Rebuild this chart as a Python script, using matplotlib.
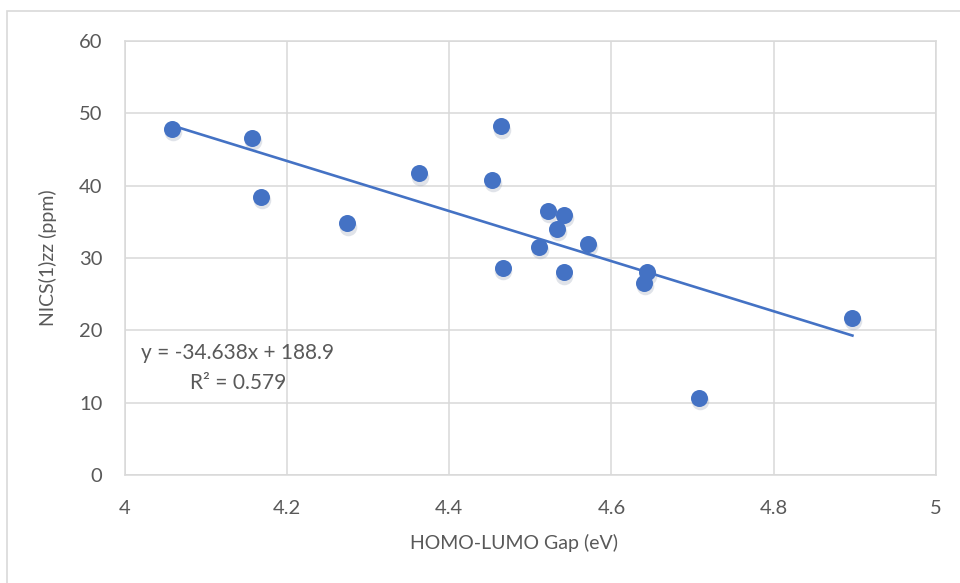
import matplotlib
matplotlib.use("Agg")
import matplotlib.pyplot as plt
import numpy as np
from matplotlib.patches import Rectangle

# HOMO-LUMO gap (eV) vs NICS(1)zz (ppm)
gap_ev = [4.059, 4.157, 4.168, 4.274, 4.363, 4.453, 4.464, 4.466,
          4.511, 4.522, 4.542, 4.533, 4.541, 4.571, 4.644, 4.640,
          4.708, 4.897]
nics_ppm = [47.9, 46.6, 38.4, 34.8, 41.7, 40.8, 48.2, 28.6,
            31.5, 36.5, 36.0, 34.0, 28.0, 32.0, 28.0, 26.6,
            10.7, 21.7]
slope, intercept = -34.638, 188.9
r2 = 0.579

x_ticks = [4, 4.2, 4.4, 4.6, 4.8, 5]
x_tick_labels = ["4", "4.2", "4.4", "4.6", "4.8", "5"]
y_ticks = [0, 10, 20, 30, 40, 50, 60]

BLUE = "#4472C4"
GRID = "#D9D9D9"
TEXT = "#595959"

plt.rcParams["font.family"] = ["Lato", "DejaVu Sans"]

W, H = 960, 583
fig = plt.figure(figsize=(W / 100, H / 100), dpi=100)
ax = fig.add_axes([124.5 / W, 1 - 475 / H, (936 - 124.5) / W, (475 - 41) / H])

# outer chart border
fig.patches.append(Rectangle((7 / W, -0.1), 1.2, 1 - 11 / H + 0.1,
                             transform=fig.transFigure, fill=False,
                             edgecolor=GRID, linewidth=1.2))

# soft shadow + points
ax.scatter(np.array(gap_ev) + 0.001, np.array(nics_ppm) - 0.45, s=160,
           color="#9aa5b8", alpha=0.3, linewidths=0, zorder=2)
ax.scatter(gap_ev, nics_ppm, s=150, color=BLUE, linewidths=0, zorder=3)

xs = np.array([min(gap_ev), max(gap_ev)])
ax.plot(xs, slope * xs + intercept, color=BLUE, linewidth=1.9, zorder=4)

ax.set_xlim(4, 5)
ax.set_ylim(0, 60)
ax.set_xticks(x_ticks)
ax.set_xticklabels(x_tick_labels)
ax.set_yticks(y_ticks)
ax.grid(True, color=GRID, linewidth=1.1)
ax.set_axisbelow(True)
for sp in ax.spines.values():
    sp.set_color(GRID)
    sp.set_linewidth(1.1)
ax.tick_params(length=0, labelsize=14.5, colors=TEXT)
ax.tick_params(axis="y", pad=16)
ax.tick_params(axis="x", pad=18)

fig.text(514 / W, 1 - 543 / H, "HOMO-LUMO Gap (eV)", ha="center", va="center",
         fontsize=14, color=TEXT)
fig.text(48 / W, 1 - 258 / H, "NICS(1)zz (ppm)", ha="center", va="center",
         rotation=90, fontsize=14, color=TEXT)

ax.text(4.020, 16.9, f"y = {slope}x + {intercept}", fontsize=15, color=TEXT,
        ha="left", va="center")
ax.text(4.081, 12.7, f"R² = {r2}", fontsize=15, color=TEXT,
        ha="left", va="center")

fig.savefig("out.png", dpi=100)
